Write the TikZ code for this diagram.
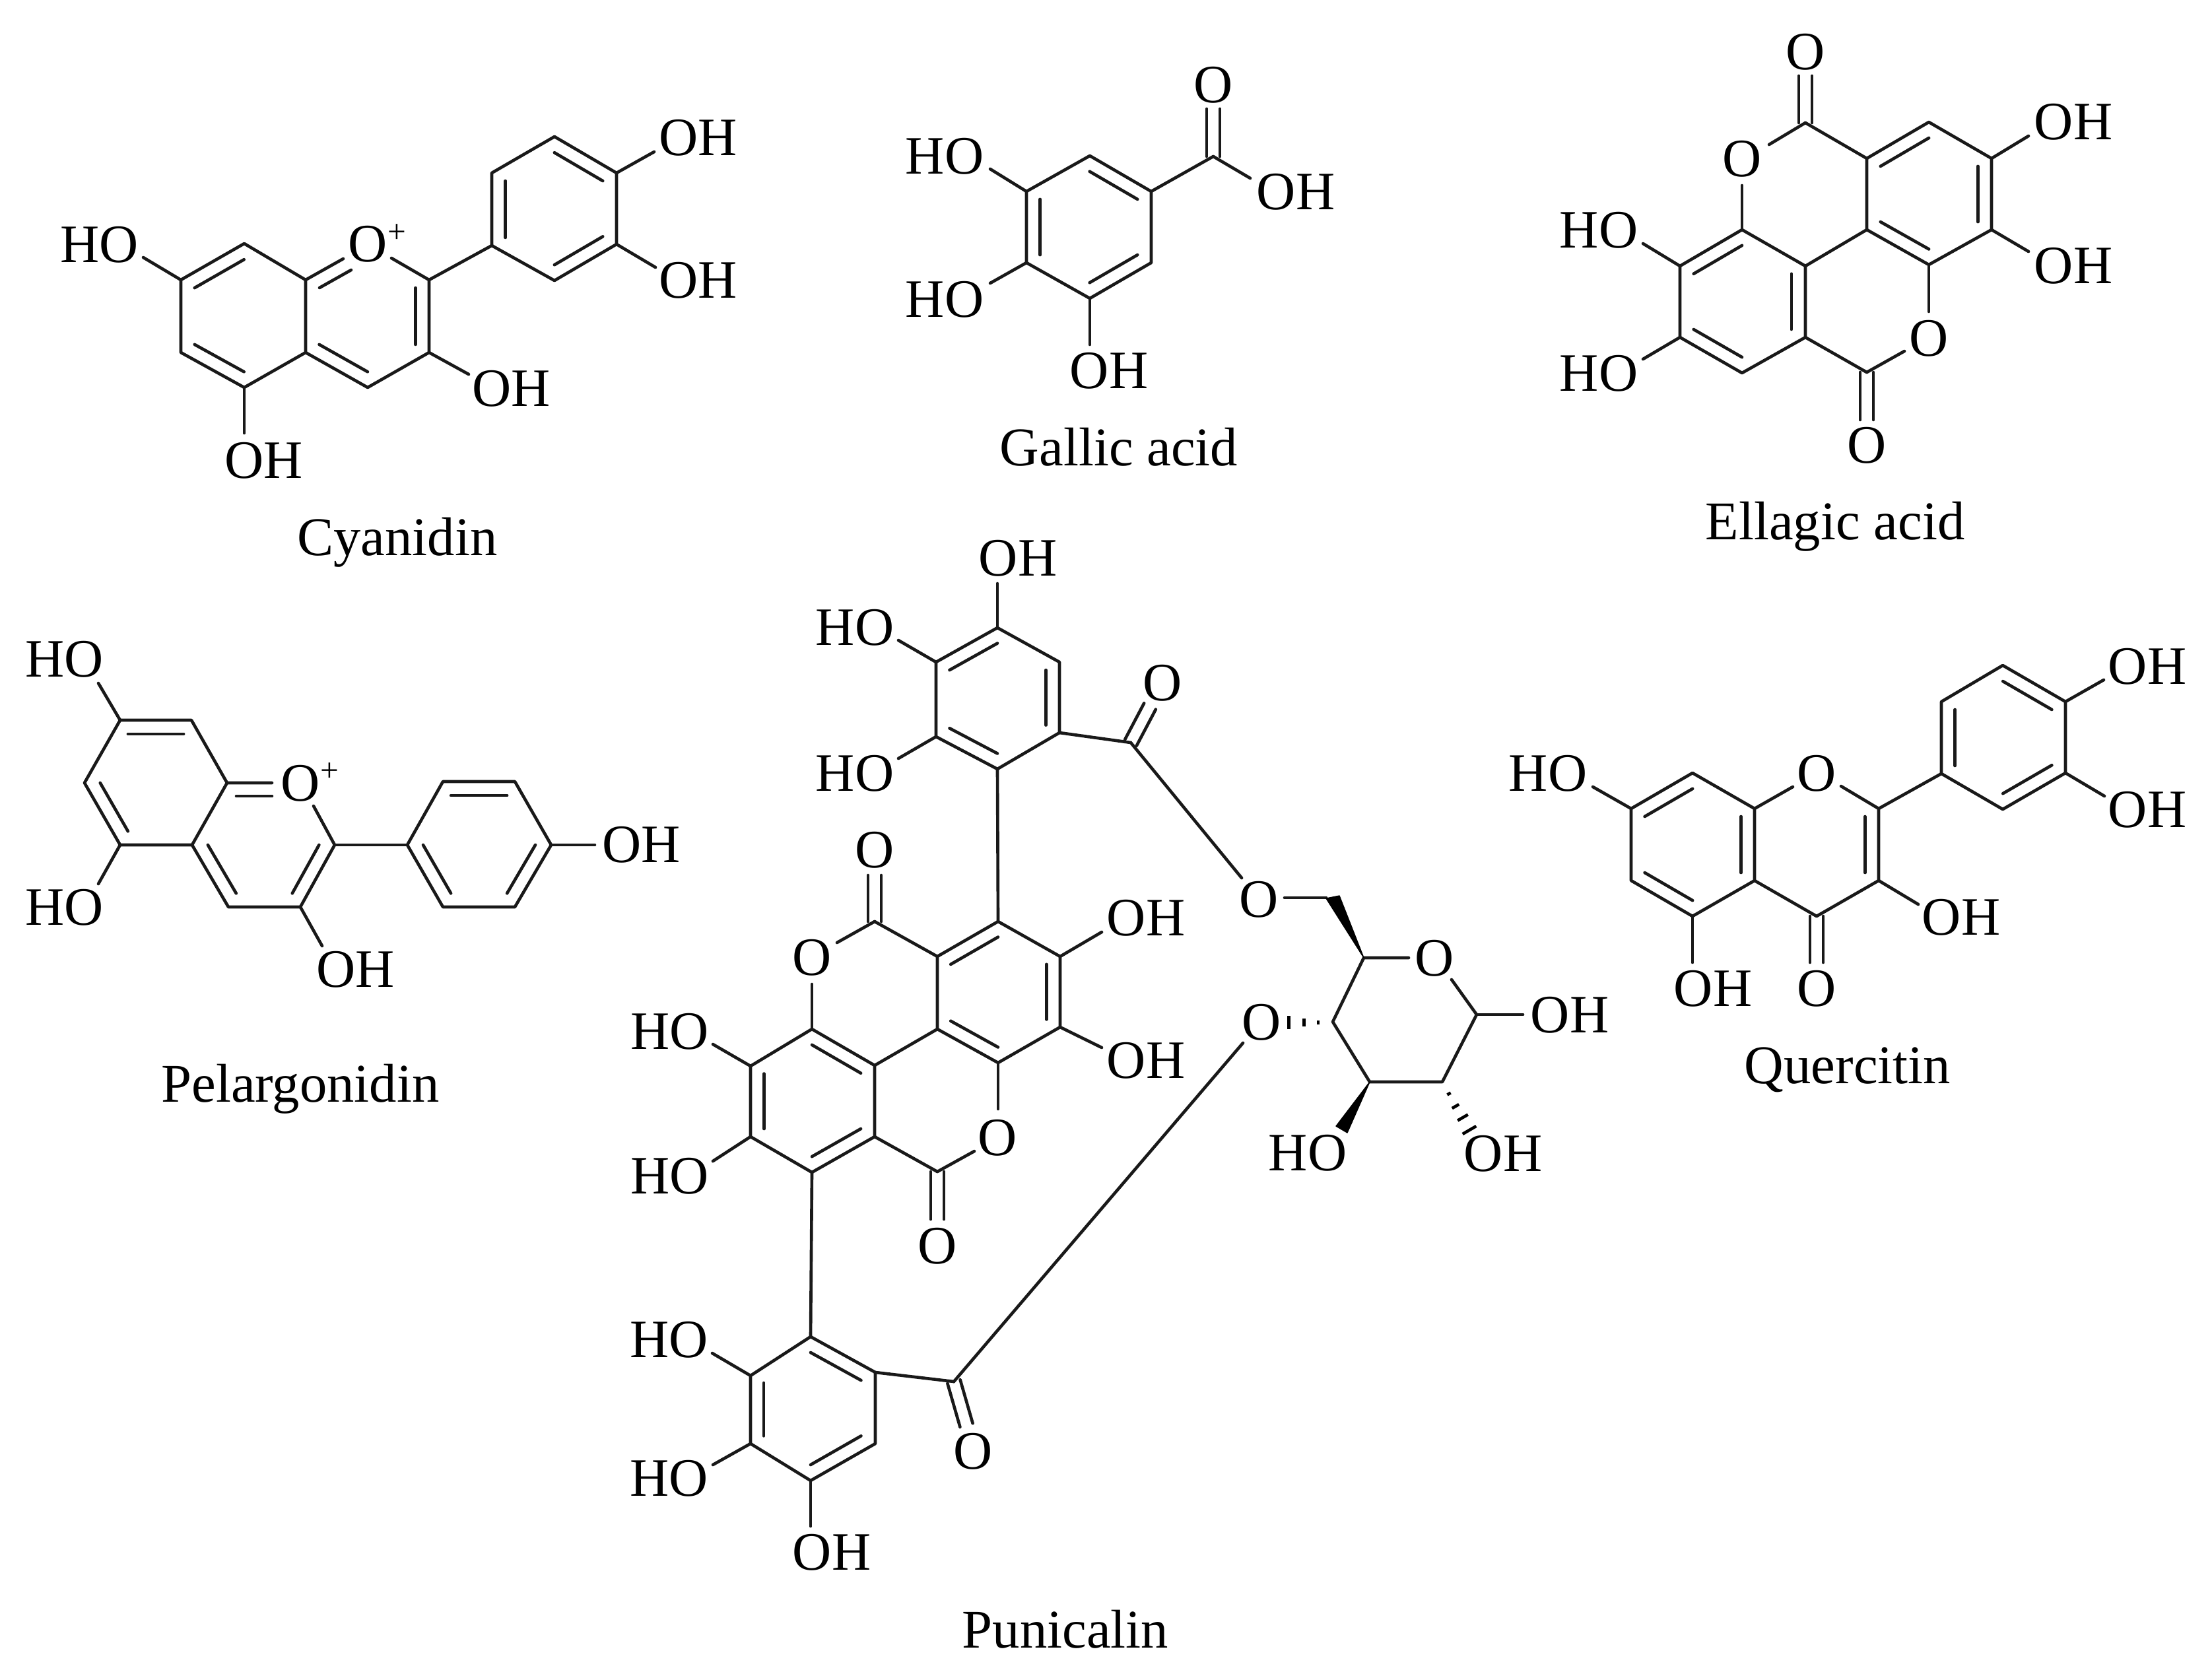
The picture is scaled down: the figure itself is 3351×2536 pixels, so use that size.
\documentclass[tikz,border=0pt]{standalone}
\usepackage{fontspec}
\setmainfont{Liberation Serif}
\usetikzlibrary{calc}
\tikzset{
  bond/.style={line width=1.32pt,line cap=round,line join=round,black!90},
  atom/.style={inner sep=0pt,font=\fontsize{23.3pt}{25pt}\selectfont,text=black},
  plus/.style={inner sep=0pt,font=\fontsize{14pt}{15pt}\selectfont,text=black},
  caption/.style={inner sep=0pt,anchor=base,font=\fontsize{23.5pt}{25pt}\selectfont,text=black},
  wedge/.style={fill=black,draw=black,line width=.4pt,line join=round},
  hash/.style={line width=1.3pt,black}
}
\newcommand{\pts}[1]{\foreach \n/\x/\y in {#1}{\coordinate (\n) at (\x,\y);}}
\newcommand{\rng}[1]{\draw[bond] #1 -- cycle;}
\newcommand{\dbl}[3]{\draw[bond] ($(#1)!.22!(#3)$) -- ($(#2)!.22!(#3)$);}
\newcommand{\dbo}[2]{\draw[bond] ($(#1)!.1cm!90:(#2)$) -- ($(#2)!.1cm!-90:(#1)$);\draw[bond] ($(#1)!.1cm!-90:(#2)$) -- ($(#2)!.1cm!90:(#1)$);}
\newcommand{\bnd}[2]{\draw[bond] (#1) -- (#2);}
\begin{document}
\begin{tikzpicture}[x=.01cm,y=-.01cm]
\useasboundingbox (0,0) rectangle (3351,2536);
% ---------- Cyanidin
\pts{ca1/274/424,ca2/370/369,ca3/463/424,ca4/463/534,ca5/370/587,ca6/274/534,
     cc2/650/424,cc3/650/534,cc4/557/587,
     cp1/745/372,cp2/745/262,cp3/840/207,cp4/934/262,cp5/934/370,cp6/840/425,
     ce1/217/390,ce2/991/230,ce3/993/405,ce4/710/567,ce5/370/656,
     ce6/520/392,ce7/593/391,ci1/484/436,ci2/532/409}
\coordinate (cA) at ($(ca1)!.5!(ca4)$);
\coordinate (cB) at ($(ca3)!.5!(cc3)$);
\coordinate (cP) at ($(cp1)!.5!(cp4)$);
\node[atom] (cHOa) at (151,371) {HO};
\node[atom] (cOHa) at (1058,209) {OH};
\node[atom] (cOHb) at (1058,425) {OH};
\node[atom] (cOHc) at (775,589) {OH};
\node[atom] (cOHd) at (400,698) {OH};
\node[atom] (cO) at (557,370) {O};
\node[plus] (cplus) at (601,354) {+};
\node[caption] (cname) at (602,841) {Cyanidin};
\draw[bond] (ce6) -- (ca3) -- (ca2) -- (ca1) -- (ca6) -- (ca5) -- (ca4) -- (ca3);
\draw[bond] (ca4) -- (cc4) -- (cc3) -- (cc2) -- (ce7);
\rng{(cp1) -- (cp2) -- (cp3) -- (cp4) -- (cp5) -- (cp6)}
\bnd{cc2}{cp1}\bnd{ca1}{ce1}\bnd{cp4}{ce2}\bnd{cp5}{ce3}\bnd{cc3}{ce4}\bnd{ca5}{ce5}\bnd{ci1}{ci2}
\dbl{ca1}{ca2}{cA}\dbl{ca5}{ca6}{cA}\dbl{ca4}{cc4}{cB}\dbl{cc2}{cc3}{cB}
\dbl{cp1}{cp2}{cP}\dbl{cp3}{cp4}{cP}\dbl{cp5}{cp6}{cP}
% ---------- Gallic acid
\pts{g1/1555/290,g2/1651/236,g3/1744/290,g4/1744/398,g5/1651/452,g6/1555/398,
     gC/1838/237,ge1/1838/165,ge2/1894/270,ge3/1500/256,ge4/1500/429,ge5/1651/522}
\coordinate (gc) at ($(g1)!.5!(g4)$);
\node[atom] (gO) at (1838,129) {O};
\node[atom] (gOHa) at (1963,291) {OH};
\node[atom] (gHOa) at (1431,237) {HO};
\node[atom] (gHOb) at (1431,454) {HO};
\node[atom] (gOHb) at (1680,562) {OH};
\node[caption] (gname) at (1695,705) {Gallic acid};
\rng{(g1) -- (g2) -- (g3) -- (g4) -- (g5) -- (g6)}
\bnd{g3}{gC}\bnd{gC}{ge2}\bnd{g1}{ge3}\bnd{g6}{ge4}\bnd{g5}{ge5}\dbo{gC}{ge1}
\dbl{g2}{g3}{gc}\dbl{g1}{g6}{gc}\dbl{g4}{g5}{gc}
% ---------- Ellagic acid
\pts{r1/2828/240,r2/2922/185,r3/3017/240,r4/3017/348,r5/2922/401,r6/2828/348,
     l1/2639/348,l2/2735/403,l3/2735/511,l4/2639/565,l5/2545/511,l6/2545/403,
     eC1/2735/186,eC2/2828/564,
     ee1/2735/115,ee2/2680/219,ee3/2639/281,ee4/2828/636,ee5/2885/532,ee6/2922/472,
     ee7/2489/369,ee8/2489/544,ee9/3073/206,ee10/3073/381}
\coordinate (er) at ($(r1)!.5!(r4)$);
\coordinate (el) at ($(l1)!.5!(l4)$);
\node[atom] (eO1) at (2735,79) {O};
\node[atom] (eO2) at (2639,241) {O};
\node[atom] (eO3) at (2828,675) {O};
\node[atom] (eO4) at (2922,513) {O};
\node[atom] (eHOa) at (2422,349) {HO};
\node[atom] (eHOb) at (2422,566) {HO};
\node[atom] (eOHa) at (3141,185) {OH};
\node[atom] (eOHb) at (3141,403) {OH};
\node[caption] (ename) at (2780,817) {Ellagic acid};
\rng{(r1) -- (r2) -- (r3) -- (r4) -- (r5) -- (r6)}
\rng{(l1) -- (l2) -- (l3) -- (l4) -- (l5) -- (l6)}
\bnd{l2}{r6}\bnd{r1}{eC1}\bnd{eC1}{ee2}\bnd{l1}{ee3}\bnd{l3}{eC2}\bnd{eC2}{ee5}\bnd{r5}{ee6}
\bnd{l6}{ee7}\bnd{l5}{ee8}\bnd{r3}{ee9}\bnd{r4}{ee10}\dbo{eC1}{ee1}\dbo{eC2}{ee4}
\dbl{r1}{r2}{er}\dbl{r3}{r4}{er}\dbl{r5}{r6}{er}\dbl{l1}{l6}{el}\dbl{l2}{l3}{el}\dbl{l4}{l5}{el}
% ---------- Pelargonidin
\pts{pa1/182/1091,pa2/290/1091,pa3/344/1186,pa4/291/1280,pa5/182/1280,pa6/128/1186,
     pc2/507/1280,pc3/455/1374,pc4/346/1374,
     pp1/617/1280,pp2/671/1184,pp3/780/1184,pp4/835/1280,pp5/780/1374,pp6/671/1374,
     pe1/149/1035,pe2/149/1339,pe3/488/1433,pe4/901/1280,pe5/412/1186,pe6/475/1221,
     pi1/358/1206,pi2/412/1206}
\coordinate (pA) at ($(pa3)!.5!(pa6)$);
\coordinate (pB) at ($(pa3)!.5!(pc3)$);
\coordinate (pP) at ($(pp1)!.5!(pp4)$);
\node[atom] (pHOa) at (98,999) {HO};
\node[atom] (pHOb) at (98,1375) {HO};
\node[atom] (pOHa) at (539,1469) {OH};
\node[atom] (pOHb) at (972,1280) {OH};
\node[atom] (pO) at (455,1187) {O};
\node[plus] (pplus) at (499,1170) {+};
\node[caption] (pname) at (455,1669) {Pelargonidin};
\draw[bond] (pe5) -- (pa3) -- (pa2) -- (pa1) -- (pa6) -- (pa5) -- (pa4) -- (pa3);
\draw[bond] (pa4) -- (pc4) -- (pc3) -- (pc2) -- (pe6);
\rng{(pp1) -- (pp2) -- (pp3) -- (pp4) -- (pp5) -- (pp6)}
\bnd{pc2}{pp1}\bnd{pa1}{pe1}\bnd{pa5}{pe2}\bnd{pc3}{pe3}\bnd{pp4}{pe4}\bnd{pi1}{pi2}
\dbl{pa1}{pa2}{pA}\dbl{pa5}{pa6}{pA}\dbl{pa4}{pc4}{pB}\dbl{pc2}{pc3}{pB}
\dbl{pp2}{pp3}{pP}\dbl{pp1}{pp6}{pP}\dbl{pp4}{pp5}{pP}
% ---------- Quercitin
\pts{qa1/2471/1225,qa2/2564/1171,qa3/2658/1225,qa4/2658/1334,qa5/2564/1388,qa6/2471/1334,
     qc2/2846/1225,qc3/2846/1334,qc4/2752/1388,
     qp1/2941/1172,qp2/2941/1063,qp3/3034/1008,qp4/3129/1063,qp5/3129/1171,qp6/3034/1226,
     qe1/2413/1192,qe2/3187/1030,qe3/3188/1206,qe4/2906/1370,qe5/2564/1458,qe6/2752/1458,
     qe7/2716/1192,qe8/2789/1191}
\coordinate (qA) at ($(qa1)!.5!(qa4)$);
\coordinate (qB) at ($(qa3)!.5!(qc3)$);
\coordinate (qP) at ($(qp1)!.5!(qp4)$);
\node[atom] (qO) at (2752,1172) {O};
\node[atom] (qOk) at (2752,1498) {O};
\node[atom] (qHOa) at (2345,1172) {HO};
\node[atom] (qOHa) at (3253,1010) {OH};
\node[atom] (qOHb) at (3253,1227) {OH};
\node[atom] (qOHc) at (2971,1390) {OH};
\node[atom] (qOHd) at (2595,1498) {OH};
\node[caption] (qname) at (2799,1641) {Quercitin};
\draw[bond] (qe7) -- (qa3) -- (qa2) -- (qa1) -- (qa6) -- (qa5) -- (qa4) -- (qa3);
\rng{(qp1) -- (qp2) -- (qp3) -- (qp4) -- (qp5) -- (qp6)}
\draw[bond] (qa4) -- (qc4) -- (qc3) -- (qc2) -- (qe8);
\bnd{qc2}{qp1}\bnd{qa1}{qe1}\bnd{qp4}{qe2}\bnd{qp5}{qe3}\bnd{qc3}{qe4}\bnd{qa5}{qe5}\dbo{qc4}{qe6}
\dbl{qa1}{qa2}{qA}\dbl{qa3}{qa4}{qA}\dbl{qa5}{qa6}{qA}\dbl{qc2}{qc3}{qB}
\dbl{qp1}{qp2}{qP}\dbl{qp3}{qp4}{qP}\dbl{qp5}{qp6}{qP}
% ---------- Punicalin: upper galloyl ring
\pts{t1/1511/951,t2/1605/1003,t3/1605/1110,t4/1511/1165,t5/1418/1116,t6/1418/1003,
     tC/1713/1125,te1/1511/884,te2/1361/970,te3/1361/1149,te4/1742/1070,te5/1881/1330}
\coordinate (tc) at ($(t1)!.5!(t4)$);
\node[atom] (tOH) at (1542,846) {OH};
\node[atom] (tHOa) at (1295,951) {HO};
\node[atom] (tHOb) at (1295,1172) {HO};
\node[atom] (tO) at (1761,1035) {O};
\rng{(t1) -- (t2) -- (t3) -- (t4) -- (t5) -- (t6)}
\bnd{t1}{te1}\bnd{t6}{te2}\bnd{t5}{te3}\bnd{t3}{tC}\bnd{tC}{te5}\dbo{tC}{te4}
\dbl{t1}{t6}{tc}\dbl{t2}{t3}{tc}\dbl{t4}{t5}{tc}
% ---------- Punicalin: ellagic core
\pts{u1/1512/1396,u2/1606/1449,u3/1606/1556,u4/1512/1610,u5/1420/1559,u6/1420/1449,
     v1/1230/1559,v2/1325/1614,v3/1325/1722,v4/1230/1776,v5/1137/1722,v6/1137/1615,
     uC1/1325/1396,uC2/1420/1775,
     ue1/1669/1412,ue2/1669/1587,ue3/1325/1326,ue4/1268/1428,ue5/1230/1491,
     ue6/1512/1680,ue7/1476/1744,ue8/1420/1847,ue9/1080/1582,ue10/1080/1759}
\coordinate (uc) at ($(u1)!.5!(u4)$);
\coordinate (vc) at ($(v1)!.5!(v4)$);
\node[atom] (uOHa) at (1736,1391) {OH};
\node[atom] (uOHb) at (1736,1607) {OH};
\node[atom] (uOa) at (1325,1288) {O};
\node[atom] (uOb) at (1230,1451) {O};
\node[atom] (uOc) at (1511,1724) {O};
\node[atom] (uOd) at (1420,1888) {O};
\node[atom] (vHOa) at (1015,1563) {HO};
\node[atom] (vHOb) at (1015,1782) {HO};
\rng{(u1) -- (u2) -- (u3) -- (u4) -- (u5) -- (u6)}
\rng{(v1) -- (v2) -- (v3) -- (v4) -- (v5) -- (v6)}
\bnd{t4}{u1}\bnd{u5}{v2}\bnd{u2}{ue1}\bnd{u3}{ue2}\bnd{u6}{uC1}\bnd{uC1}{ue4}\bnd{v1}{ue5}
\bnd{u4}{ue6}\bnd{uC2}{ue7}\bnd{v3}{uC2}\bnd{v6}{ue9}\bnd{v5}{ue10}\dbo{uC1}{ue3}\dbo{uC2}{ue8}
\dbl{u1}{u6}{uc}\dbl{u2}{u3}{uc}\dbl{u4}{u5}{uc}\dbl{v1}{v2}{vc}\dbl{v3}{v4}{vc}\dbl{v5}{v6}{vc}
% ---------- Punicalin: lower galloyl ring
\pts{w1/1228/2025,w2/1326/2079,w3/1326/2187,w4/1228/2243,w5/1137/2187,w6/1137/2084,
     wC/1445/2093,we1/1079/2050,we2/1080/2219,we3/1228/2312,we4/1464/2159,we5/1883/1580}
\coordinate (wc) at ($(w1)!.5!(w4)$);
\node[atom] (wHOa) at (1014,2030) {HO};
\node[atom] (wHOb) at (1014,2240) {HO};
\node[atom] (wOH) at (1260,2352) {OH};
\node[atom] (wO) at (1474,2199) {O};
\node[caption] (uname) at (1614,2496) {Punicalin};
\rng{(w1) -- (w2) -- (w3) -- (w4) -- (w5) -- (w6)}
\bnd{v4}{w1}\bnd{w6}{we1}\bnd{w5}{we2}\bnd{w4}{we3}\bnd{w2}{wC}\bnd{wC}{we5}\dbo{wC}{we4}
\dbl{w1}{w2}{wc}\dbl{w3}{w4}{wc}\dbl{w5}{w6}{wc}
% ---------- Punicalin: sugar
\pts{sC5/2066/1451,sC1/2237/1537,sC2/2185/1639,sC3/2075/1639,sC4/2019/1548,sC6/2009/1360,
     se1/1946/1360,se2/2134/1451,se3/2199/1484,se4/2307/1537,
     sw1/2009/1361,sw2/2029/1357,sw3/2024/1706,sw4/2041/1716}
\node[atom] (sOa) at (1907,1363) {O};
\node[atom] (sOb) at (1911,1549) {O};
\node[atom] (sOc) at (2173,1452) {O};
\node[atom] (sOHa) at (2378,1538) {OH};
\node[atom] (sOHb) at (2277,1748) {OH};
\node[atom] (sHO) at (1981,1747) {HO};
\draw[bond] (se2) -- (sC5) -- (sC4) -- (sC3) -- (sC2) -- (sC1) -- (se3);
\bnd{se1}{sC6}\bnd{sC1}{se4}
\fill[wedge] (sC5) -- (sw1) -- (sw2) -- cycle;
\fill[wedge] (sC3) -- (sw3) -- (sw4) -- cycle;
\draw[hash] (1997,1546) -- (1997,1552) (1975.5,1543) -- (1975.5,1555) (1952.5,1539) -- (1952.5,1559);
\draw[hash] (2192.4,1658.5) -- (2197.6,1655.5) (2199.8,1679) -- (2210.2,1673)
            (2208.2,1697.5) -- (2223.8,1688.5) (2215.7,1718) -- (2236.3,1706);
\end{tikzpicture}
\end{document}
